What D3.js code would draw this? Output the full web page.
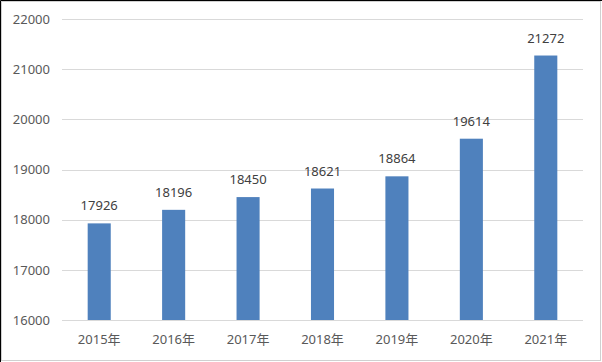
<!DOCTYPE html>
<html>
<head>
<meta charset="utf-8">
<script src="https://cdn.jsdelivr.net/npm/d3@7"></script>
<style>
  body { margin: 0; background: #fff; }
  #grafica { width: 602px; height: 362px; }
  text { font-family: "Noto Sans", "Noto Sans CJK SC", sans-serif; }
</style>
</head>
<body>
<div id="grafica"></div>
<script>
const anios = ["2015年", "2016年", "2017年", "2018年", "2019年", "2020年", "2021年"];
const valores = [17926, 18196, 18450, 18621, 18864, 19614, 21272];
const ticksY = [16000, 17000, 18000, 19000, 20000, 21000, 22000];

const ancho = 602, alto = 362;
const margin = { top: 19, right: 19, bottom: 42, left: 62 };
const width = ancho - margin.left - margin.right;
const height = alto - margin.top - margin.bottom;

const svg = d3.select("#grafica")
  .append("svg")
  .attr("width", ancho)
  .attr("height", alto);

// marco
svg.append("rect")
  .attr("x", 1.5).attr("y", 1.5)
  .attr("width", ancho - 3).attr("height", alto - 3)
  .attr("fill", "none")
  .attr("stroke", "#d0d0d0");
svg.append("path")
  .attr("d", "M0.5," + alto + "V0.5H" + ancho)
  .attr("fill", "none")
  .attr("stroke", "#000");

const g = svg.append("g")
  .attr("transform", "translate(" + margin.left + "," + margin.top + ")");

const x = d3.scaleBand()
  .domain(anios)
  .range([0, width])
  .paddingInner(0.69)
  .paddingOuter(0.345);

const y = d3.scaleLinear()
  .domain([16000, 22000])
  .range([height, 0]);

// rejilla
g.selectAll("line.grid")
  .data(ticksY)
  .enter()
  .append("line")
  .attr("class", "grid")
  .attr("x1", 0)
  .attr("x2", width)
  .attr("y1", (d) => Math.round(y(d)) + 0.5)
  .attr("y2", (d) => Math.round(y(d)) + 0.5)
  .attr("stroke", "#d9d9d9")
  .attr("stroke-width", 1);

// eje y
const ejeY = g.append("g")
  .call(d3.axisLeft(y).tickValues(ticksY).tickSize(0).tickPadding(12).tickFormat(d3.format("d")));
ejeY.select(".domain").remove();
ejeY.selectAll("text")
  .attr("font-size", "13px")
  .attr("fill", "#595959");

// eje x
const ejeX = g.append("g")
  .attr("transform", "translate(0," + height + ")")
  .call(d3.axisBottom(x).tickSize(0).tickPadding(15));
ejeX.select(".domain").remove();
ejeX.selectAll("text")
  .attr("font-size", "13px")
  .attr("fill", "#595959");

// barras
g.selectAll("rect.barra")
  .data(valores)
  .enter()
  .append("rect")
  .attr("class", "barra")
  .attr("x", (d, i) => x(anios[i]))
  .attr("y", (d) => y(d))
  .attr("width", x.bandwidth())
  .attr("height", (d) => height - y(d))
  .attr("fill", "#4f81bd");

// etiquetas
g.selectAll("text.valor")
  .data(valores)
  .enter()
  .append("text")
  .attr("class", "valor")
  .attr("x", (d, i) => x(anios[i]) + x.bandwidth() / 2)
  .attr("y", (d) => y(d) - 13)
  .attr("text-anchor", "middle")
  .attr("font-size", "13px")
  .attr("fill", "#404040")
  .text((d) => d);
</script>
</body>
</html>
